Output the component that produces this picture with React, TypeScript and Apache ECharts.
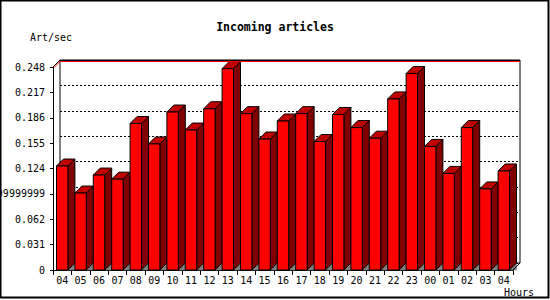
import React, { useEffect, useRef } from "react";
import * as echarts from "echarts";

const hours = ["04","05","06","07","08","09","10","11","12","13","14","15","16","17","18","19","20","21","22","23","00","01","02","03","04"];
const rates = [0.127,0.094,0.116,0.111,0.179,0.154,0.193,0.171,0.197,0.246,0.191,0.160,0.182,0.191,0.157,0.190,0.174,0.161,0.209,0.240,0.151,0.118,0.174,0.099,0.121];
const yTickLabels = ["0","0.031","0.062","0.09299999999999999","0.124","0.155","0.186","0.217","0.248"];
const yStep = 0.031;
const yMax = 0.248;

const FONT = "'DejaVu Sans Mono', monospace";
const D = 7;

export default function App() {
  const ref = useRef<HTMLDivElement>(null);
  useEffect(() => {
    const chart = echarts.init(ref.current!, null, { renderer: "svg" });
    const option: any = {
      animation: false,
      backgroundColor: "#fff",
      grid: [
        { left: 53, top: 67, width: 460, height: 203, show: false, containLabel: false, outerBoundsMode: "none" },
        { left: 60, top: 60, width: 460, height: 203, show: true, borderColor: "#000", borderWidth: 1, backgroundColor: "transparent", containLabel: false, outerBoundsMode: "none" },
      ],
      xAxis: [
        {
          type: "category", gridIndex: 0, data: hours, boundaryGap: true,
          axisLine: { show: true, lineStyle: { color: "#000", width: 1 } },
          axisTick: { show: true, length: 5, inside: false, lineStyle: { color: "#000" } },
          axisLabel: { color: "#000", fontFamily: FONT, fontSize: 10, margin: 5, interval: 0, hideOverlap: false },
          splitLine: { show: false },
        },
        {
          type: "category", gridIndex: 1, data: hours, show: false,
        },
      ],
      yAxis: [
        {
          type: "value", gridIndex: 0, min: 0, max: yMax, interval: yStep,
          axisLine: { show: true, lineStyle: { color: "#000", width: 1 } },
          axisTick: { show: true, length: 3, lineStyle: { color: "#000" } },
          axisLabel: {
            color: "#000", fontFamily: FONT, fontSize: 10, margin: 8, hideOverlap: false,
            formatter: (v: number) => yTickLabels[Math.round(v / yStep)] ?? "",
          },
          splitLine: { show: false },
        },
        {
          type: "value", gridIndex: 1, min: 0, max: yMax, interval: yStep,
          axisLine: { show: false }, axisTick: { show: false }, axisLabel: { show: false },
          splitLine: { show: true, lineStyle: { color: "#000", type: [2, 2], width: 1 } },
        },
      ],
      series: [
        {
          type: "custom",
          xAxisIndex: 0,
          yAxisIndex: 0,
          clip: false,
          z: 5,
          data: rates.map((v, i) => [i, v]),
          renderItem: (params: any, api: any) => {
            const idx = api.value(0);
            const val = api.value(1);
            const top = api.coord([idx, val]);
            const base = api.coord([idx, 0]);
            const cw = api.size([1, 0])[0];
            const bw = cw * 0.62;
            const xl = top[0] - bw / 2;
            const xr = top[0] + bw / 2;
            const yt = top[1];
            const yb = base[1];
            const stroke = { stroke: "#000", lineWidth: 1 };
            return {
              type: "group",
              children: [
                { type: "polygon", shape: { points: [[xr, yb], [xr + D, yb - D], [xr + D, yb]] }, style: { fill: "#808080", stroke: "#808080", lineWidth: 0.5 } },
                { type: "polygon", shape: { points: [[xr, yt], [xr + D, yt - D], [xr + D, yb - D], [xr, yb]] }, style: { fill: "#800000", ...stroke } },
                { type: "polygon", shape: { points: [[xl, yt], [xr, yt], [xr + D, yt - D], [xl + D, yt - D]] }, style: { fill: "#c00000", ...stroke } },
                { type: "rect", shape: { x: xl, y: yt, width: bw, height: yb - yt }, style: { fill: "#ff0000", ...stroke } },
              ],
            };
          },
        },
      ],
      graphic: [
        { type: "rect", z: -10, shape: { x: 0.5, y: 0.5, width: 548, height: 297 }, style: { fill: "none", stroke: "#000", lineWidth: 2 } },
        { type: "line", z: 10, shape: { x1: 60, y1: 60.5, x2: 520, y2: 60.5 }, style: { stroke: "#000", lineWidth: 1 } },
        { type: "line", z: 10, shape: { x1: 61, y1: 61.5, x2: 520, y2: 61.5 }, style: { stroke: "#ff0000", lineWidth: 1 } },
        { type: "line", z: 10, shape: { x1: 53, y1: 67, x2: 60, y2: 60 }, style: { stroke: "#000", lineWidth: 1 } },
        { type: "line", z: 10, shape: { x1: 54, y1: 67.5, x2: 60.5, y2: 61 }, style: { stroke: "#ff0000", lineWidth: 1 } },
        { type: "line", z: 10, shape: { x1: 513, y1: 270, x2: 520, y2: 263 }, style: { stroke: "#000", lineWidth: 1 } },
        { type: "text", z: 10, x: 275, y: 27, style: { text: "Incoming articles", fontFamily: FONT, fontSize: 11.5, fontWeight: "bold", fill: "#000", textAlign: "center", textVerticalAlign: "middle" } },
        { type: "text", z: 10, x: 30, y: 37, style: { text: "Art/sec", fontFamily: FONT, fontSize: 10, fill: "#000", textAlign: "left", textVerticalAlign: "middle" } },
        { type: "text", z: 10, x: 534, y: 292, style: { text: "Hours", fontFamily: FONT, fontSize: 10, fill: "#000", textAlign: "right", textVerticalAlign: "middle" } },
      ],
    };
    chart.setOption(option);
    return () => chart.dispose();
  }, []);
  return <div ref={ref} style={{ position: "absolute", left: 0, top: 0, width: 550, height: 300 }} />;
}
